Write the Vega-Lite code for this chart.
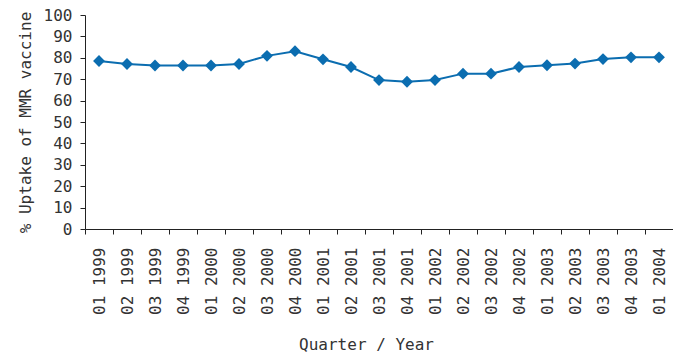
{
  "$schema": "https://vega.github.io/schema/vega-lite/v6.json",
  "width": 588,
  "height": 214,
  "autosize": {"type": "none"},
  "padding": {"left": 85, "top": 15, "right": 0, "bottom": 129},
  "background": "white",
  "config": {
    "view": {"stroke": null},
    "font": "DejaVu Sans Mono",
    "axis": {
      "labelFont": "DejaVu Sans Mono",
      "titleFont": "DejaVu Sans Mono",
      "labelFontSize": 16,
      "titleFontSize": 16,
      "titleFontWeight": "normal",
      "labelColor": "#333333",
      "titleColor": "#333333",
      "domainColor": "#222222",
      "tickColor": "#222222",
      "domainWidth": 1,
      "tickWidth": 1,
      "tickSize": 5,
      "grid": false
    }
  },
  "data": {
    "values": [
      {"quarter": "01 1999", "uptake": 78.5},
      {"quarter": "02 1999", "uptake": 77.1},
      {"quarter": "03 1999", "uptake": 76.4},
      {"quarter": "04 1999", "uptake": 76.4},
      {"quarter": "01 2000", "uptake": 76.4},
      {"quarter": "02 2000", "uptake": 77.1},
      {"quarter": "03 2000", "uptake": 80.9},
      {"quarter": "04 2000", "uptake": 83.1},
      {"quarter": "01 2001", "uptake": 79.3},
      {"quarter": "02 2001", "uptake": 75.7},
      {"quarter": "03 2001", "uptake": 69.6},
      {"quarter": "04 2001", "uptake": 68.8},
      {"quarter": "01 2002", "uptake": 69.6},
      {"quarter": "02 2002", "uptake": 72.6},
      {"quarter": "03 2002", "uptake": 72.6},
      {"quarter": "04 2002", "uptake": 75.7},
      {"quarter": "01 2003", "uptake": 76.5},
      {"quarter": "02 2003", "uptake": 77.3},
      {"quarter": "03 2003", "uptake": 79.4},
      {"quarter": "04 2003", "uptake": 80.2},
      {"quarter": "01 2004", "uptake": 80.2}
    ]
  },
  "mark": {
    "type": "line",
    "color": "#0b6db0",
    "strokeWidth": 2,
    "point": {"shape": "diamond", "size": 140, "filled": true, "color": "#0b6db0", "opacity": 1}
  },
  "encoding": {
    "x": {
      "field": "quarter",
      "type": "ordinal",
      "sort": null,
      "bandPosition": 0.5,
      "scale": {"type": "band", "paddingInner": 0, "paddingOuter": 0},
      "axis": {
        "title": "Quarter / Year",
        "labelAngle": -90,
        "labelPadding": 13,
        "tickBand": "extent",
        "titlePadding": 22,
        "titleX": 281,
        "titleAlign": "center"
      }
    },
    "y": {
      "field": "uptake",
      "type": "quantitative",
      "scale": {"domain": [0, 100], "nice": false, "zero": true},
      "axis": {
        "title": "% Uptake of MMR vaccine",
        "values": [0, 10, 20, 30, 40, 50, 60, 70, 80, 90, 100],
        "labelPadding": 8,
        "titlePadding": 10
      }
    }
  }
}
